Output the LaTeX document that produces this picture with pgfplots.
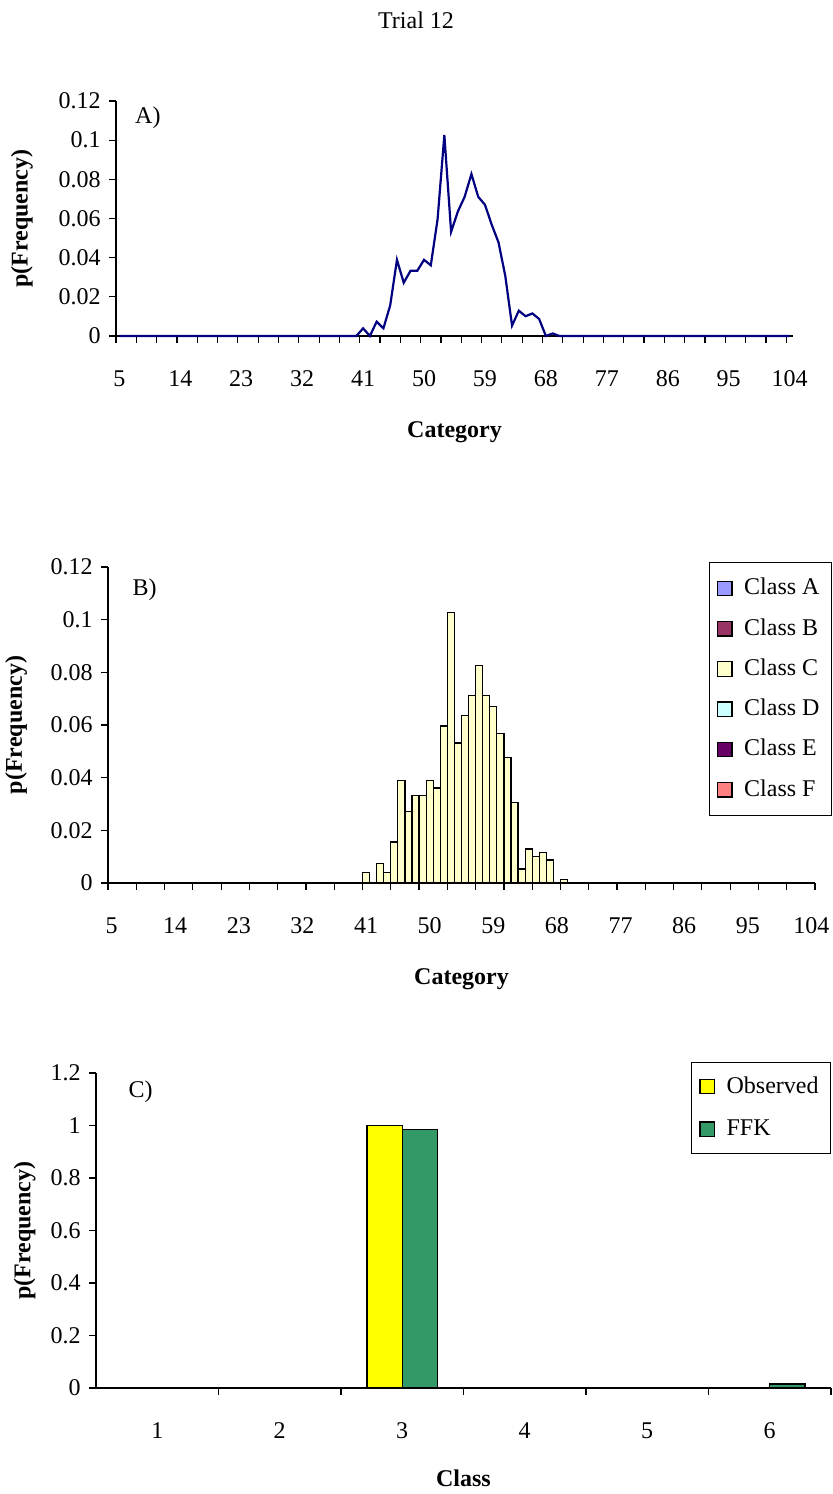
\documentclass[border=0pt,12pt]{standalone}
\usepackage{pgfplots}
\pgfplotsset{compat=1.18}
\usepackage{pgfplotstable}
\usepackage{fontspec}
\setmainfont{Liberation Serif}
\definecolor{navyline}{HTML}{000080}
\definecolor{classA}{HTML}{9999FF}
\definecolor{classB}{HTML}{993366}
\definecolor{classC}{HTML}{FFFFCC}
\definecolor{classD}{HTML}{CCFFFF}
\definecolor{classE}{HTML}{660066}
\definecolor{classF}{HTML}{FF8080}
\definecolor{obsyellow}{HTML}{FFFF00}
\definecolor{ffkgreen}{HTML}{339966}

\pgfplotstableread{
cat p
5 0
6 0
7 0
8 0
9 0
10 0
11 0
12 0
13 0
14 0
15 0
16 0
17 0
18 0
19 0
20 0
21 0
22 0
23 0
24 0
25 0
26 0
27 0
28 0
29 0
30 0
31 0
32 0
33 0
34 0
35 0
36 0
37 0
38 0
39 0
40 0
41 0.0039
42 0
43 0.0073
44 0.0039
45 0.0156
46 0.0389
47 0.0272
48 0.0333
49 0.0333
50 0.0389
51 0.0361
52 0.0596
53 0.1026
54 0.0532
55 0.0636
56 0.0711
57 0.0827
58 0.0711
59 0.0670
60 0.0568
61 0.0478
62 0.0307
63 0.0053
64 0.0129
65 0.0101
66 0.0115
67 0.0087
68 0
69 0.0013
70 0
71 0
72 0
73 0
74 0
75 0
76 0
77 0
78 0
79 0
80 0
81 0
82 0
83 0
84 0
85 0
86 0
87 0
88 0
89 0
90 0
91 0
92 0
93 0
94 0
95 0
96 0
97 0
98 0
99 0
100 0
101 0
102 0
103 0
104 0
}\freqtable

\pgfplotstableread{
cls obs ffk
1 0 0
2 0 0
3 1.0 0.985
4 0 0
5 0 0
6 0 0.015
}\classtable

\pgfplotsset{
  excelaxis/.style={
    scale only axis, anchor=south west, clip=false,
    axis x line*=bottom, axis y line*=left,
    tick align=outside,
    axis line style={black, line width=0.6pt},
    every tick/.style={black, line width=0.6pt},
    major tick length=3.5pt, minor tick length=3.5pt,
    major x tick style={draw=none},
    /pgf/number format/assume math mode=true,
    tick label style={font=\fontsize{12}{14}\selectfont},
    xticklabel style={anchor=center, yshift=-18pt},
    yticklabel style={anchor=east},
    every axis x label/.style={at={(axis description cs:0.5,0)}, anchor=center, yshift=-48pt, font=\fontsize{12}{14}\selectfont\bfseries},
  },
  sqlegend/.style={legend image code/.code={\draw[##1, line width=0.6pt] (0pt,-3.6pt) rectangle (7.2pt,3.6pt); \path (11pt,0pt);}},
}

\begin{document}
\begin{tikzpicture}
\useasboundingbox (0pt,0pt) rectangle (416pt,747pt);
\node[font=\fontsize{12}{14}\selectfont] at (208pt,737pt) {Trial 12};

% Panel A
\begin{axis}[excelaxis, at={(58pt,579pt)}, width=338.5pt, height=117.5pt,
  xmin=4.5, xmax=104.5, ymin=0, ymax=0.12,
  xtick={5,14,...,104}, minor xtick={4.5,7.5,...,103.5},
  ytick={0,0.02,0.04,0.06,0.08,0.1,0.12},
  yticklabels={0,0.02,0.04,0.06,0.08,0.1,0.12},
  xlabel={Category}, ylabel={p(Frequency)},
  every axis y label/.style={at={(axis description cs:-0.139,0.5)}, rotate=90, anchor=center, font=\fontsize{12}{14}\selectfont\bfseries},
]
\addplot[navyline, line width=1.1pt, mark=none] table[x=cat, y=p] {\freqtable};
\node[anchor=west, font=\fontsize{12}{14}\selectfont] at (axis description cs:0.016,0.928) {A)};
\end{axis}

% Panel B
\begin{axis}[excelaxis, at={(54pt,305.5pt)}, width=353.5pt, height=158pt,
  xmin=4.5, xmax=104.5, ymin=0, ymax=0.12,
  xtick={5,14,...,104}, minor xtick={4.5,8.5,...,104.5},
  ytick={0,0.02,0.04,0.06,0.08,0.1,0.12},
  yticklabels={0,0.02,0.04,0.06,0.08,0.1,0.12},
  xlabel={Category}, ylabel={p(Frequency)},
  every axis y label/.style={at={(axis description cs:-0.130,0.5)}, rotate=90, anchor=center, font=\fontsize{12}{14}\selectfont\bfseries},
  legend style={at={(axis description cs:1.024,1.016)}, anchor=north east, draw=black, fill=white,
    font=\fontsize{12}{14}\selectfont, row sep=6pt, inner xsep=4pt, inner ysep=6pt, cells={anchor=west}},
  legend cell align=left,
]
\addlegendimage{sqlegend, fill=classA, draw=black}
\addlegendentry{Class A}
\addlegendimage{sqlegend, fill=classB, draw=black}
\addlegendentry{Class B}
\addplot[sqlegend, ybar, bar width=1, bar shift=0, fill=classC, draw=black, line width=0.6pt,
  restrict y to domain=0.0001:1] table[x=cat, y=p] {\freqtable};
\addlegendentry{Class C}
\addlegendimage{sqlegend, fill=classD, draw=black}
\addlegendentry{Class D}
\addlegendimage{sqlegend, fill=classE, draw=black}
\addlegendentry{Class E}
\addlegendimage{sqlegend, fill=classF, draw=black}
\addlegendentry{Class F}
\node[anchor=west, font=\fontsize{12}{14}\selectfont] at (axis description cs:0.023,0.927) {B)};
\end{axis}

% Panel C
\begin{axis}[excelaxis, at={(48pt,53pt)}, width=367.5pt, height=157.5pt,
  xmin=0.5, xmax=6.5, ymin=0, ymax=1.2,
  xtick={1,2,3,4,5,6}, minor xtick={1.5,2.5,3.5,4.5,5.5,6.5},
  ytick={0,0.2,0.4,0.6,0.8,1,1.2},
  yticklabels={0,0.2,0.4,0.6,0.8,1,1.2},
  xlabel={Class}, ylabel={p(Frequency)},
  every axis x label/.style={at={(axis description cs:0.5,0)}, anchor=center, yshift=-45pt, font=\fontsize{12}{14}\selectfont\bfseries},
  every axis y label/.style={at={(axis description cs:-0.097,0.5)}, rotate=90, anchor=center, font=\fontsize{12}{14}\selectfont\bfseries},
  legend style={at={(axis description cs:1.0,1.035)}, anchor=north east, draw=black, fill=white,
    font=\fontsize{12}{14}\selectfont, row sep=7.5pt, inner xsep=4pt, inner ysep=5pt, cells={anchor=west}},
  legend cell align=left,
]
\addplot[sqlegend, ybar, bar width=0.287, bar shift=-0.1435, fill=obsyellow, draw=black, line width=0.6pt,
  restrict y to domain=0.0001:2] table[x=cls, y=obs] {\classtable};
\addlegendentry{Observed}
\addplot[sqlegend, ybar, bar width=0.287, bar shift=0.1435, fill=ffkgreen, draw=black, line width=0.6pt,
  restrict y to domain=0.0001:2] table[x=cls, y=ffk] {\classtable};
\addlegendentry{FFK}
\node[anchor=west, font=\fontsize{12}{14}\selectfont] at (axis description cs:0.033,0.94) {C)};
\end{axis}
\end{tikzpicture}
\end{document}
